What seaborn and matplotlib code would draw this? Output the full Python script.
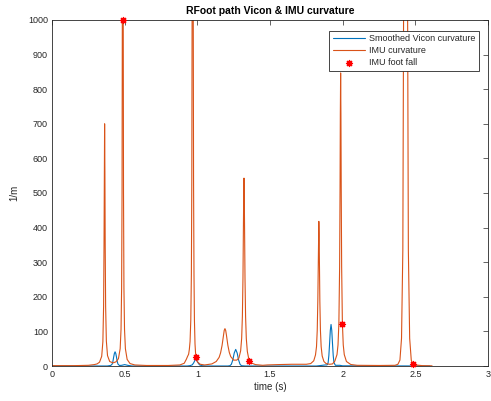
import matplotlib
matplotlib.use("Agg")
import matplotlib.pyplot as plt
import pandas as pd
import seaborn as sns

# ---- data ----
vicon_t = [0.000, 0.380, 0.404, 0.414, 0.419, 0.424, 0.429, 0.434, 0.439, 0.444, 0.449, 0.454, 0.464,
           0.480, 0.500, 0.520, 0.550, 0.930, 0.950, 0.965, 0.975, 0.983, 0.990, 0.997, 1.005, 1.015,
           1.030, 1.060, 1.210, 1.224, 1.234, 1.244, 1.254, 1.264, 1.274, 1.284, 1.294, 1.304, 1.330,
           1.820, 1.860, 1.880, 1.890, 1.895, 1.900, 1.905, 1.910, 1.915, 1.920, 1.925, 1.930, 1.935,
           1.940, 1.950, 1.980, 2.000, 2.600]
vicon_k = [0, 0, 1.5, 5.5, 13, 25, 36, 41, 36, 25, 13, 5.5, 1.5,
           2, 4, 2, 0, 0, 1, 3.3, 9.2, 16, 20, 16, 9.2, 3.3,
           1, 0, 0, 0.8, 4.8, 17.3, 37.6, 48, 37.6, 17.3, 4.8, 0.8, 0,
           0, 2, 3, 3, 4, 10, 30, 65, 103, 120, 103, 65, 30,
           10, 2, 2, 0.5, 0]

imu_t = [0.000, 0.150, 0.250, 0.290, 0.310, 0.327, 0.342, 0.350, 0.355, 0.358, 0.360, 0.362, 0.364,
         0.366, 0.369, 0.374, 0.382, 0.397, 0.420, 0.440, 0.457, 0.469, 0.475, 0.479, 0.482, 0.484,
         0.485, 0.486, 0.487, 0.488, 0.489, 0.490, 0.492, 0.495, 0.499, 0.505, 0.517, 0.537, 0.570,
         0.650, 0.800, 0.880, 0.910, 0.925, 0.933, 0.940, 0.945, 0.950, 0.955, 0.959, 0.962, 0.964,
         0.965, 0.966, 0.967, 0.968, 0.969, 0.970, 0.971, 0.972, 0.974, 0.977, 0.980, 0.984, 0.988,
         0.991, 1.000, 1.020, 1.050, 1.100, 1.130, 1.150, 1.160, 1.170, 1.175, 1.180, 1.185, 1.190,
         1.195, 1.200, 1.205, 1.210, 1.220, 1.230, 1.250, 1.271, 1.286, 1.298, 1.305, 1.310, 1.314,
         1.317, 1.319, 1.321, 1.323, 1.325, 1.328, 1.332, 1.337, 1.344, 1.356, 1.371, 1.400, 1.450,
         1.480, 1.550, 1.650, 1.750, 1.780, 1.801, 1.813, 1.820, 1.825, 1.829, 1.832, 1.834, 1.836,
         1.838, 1.840, 1.843, 1.847, 1.852, 1.859, 1.871, 1.886, 1.910, 1.930, 1.946, 1.961, 1.968,
         1.974, 1.979, 1.982, 1.984, 1.986, 1.988, 1.990, 1.993, 1.998, 2.004, 2.011, 2.026, 2.056,
         2.100, 2.250, 2.360, 2.380, 2.394, 2.405, 2.414, 2.419, 2.425, 2.433, 2.441, 2.447, 2.452,
         2.461, 2.472, 2.482, 2.500, 2.550, 2.615]
imu_k = [1, 1, 2, 4, 6, 11, 28, 70, 172, 350, 560, 700, 560,
         350, 172, 72, 30, 13, 9, 12, 21, 50, 106, 225, 502, 1027,
         1527, 2157, 2500, 2157, 1527, 1027, 502, 225, 106, 50, 19, 7, 3,
         1.5, 1.5, 3, 8, 20, 28, 34, 48, 71, 133, 265, 537, 987,
         1397, 1986, 2660, 3000, 2660, 1986, 1397, 987, 537, 265, 133, 64, 36,
         25, 12, 5, 3, 6, 13, 25, 38, 59, 74, 90, 103, 108,
         103, 90, 74, 60, 39, 27, 17, 17, 23, 44, 80, 144, 254,
         395, 495, 543, 495, 395, 253, 143, 79, 42, 16, 9, 4, 2,
         3, 4, 5, 5, 7, 15, 32, 56, 103, 187, 298, 380, 418,
         380, 298, 187, 103, 56, 29, 13, 7, 5, 6, 14, 33, 61,
         125, 286, 516, 730, 847, 730, 516, 286, 125, 61, 33, 13, 4.3,
         2, 1.5, 2, 5, 17, 80, 335, 1000, 1800, 2000, 1800, 1000, 335,
         80, 17, 6, 3, 1, 0.5]

fall_t = [0.489, 0.991, 1.356, 1.998, 2.482]
fall_k = [1000, 25, 15, 120, 5]

x_ticks = [0, 0.5, 1, 1.5, 2, 2.5, 3]
x_tick_labels = ["0", "0.5", "1", "1.5", "2", "2.5", "3"]
y_ticks = [0, 100, 200, 300, 400, 500, 600, 700, 800, 900, 1000]

vicon_df = pd.DataFrame({"t": vicon_t, "k": vicon_k})
imu_df = pd.DataFrame({"t": imu_t, "k": imu_k})
fall_df = pd.DataFrame({"t": fall_t, "k": fall_k})

# ---- style ----
sns.set_theme(style="white")
plt.rcParams["font.family"] = ["Liberation Sans", "DejaVu Sans"]
dark = "#262626"

fig = plt.figure(figsize=(4.91, 4.01), dpi=100)
fig.patch.set_facecolor("white")
ax = fig.add_axes([52 / 491, 1 - 366 / 401, 436 / 491, 346 / 401])

sns.lineplot(data=vicon_df, x="t", y="k", ax=ax, color="#0072BD", linewidth=0.8,
             estimator=None, sort=False, label="Smoothed Vicon curvature")
sns.lineplot(data=imu_df, x="t", y="k", ax=ax, color="#D95319", linewidth=0.8,
             estimator=None, sort=False, label="IMU curvature")
sns.scatterplot(data=fall_df, x="t", y="k", ax=ax, color="red", marker=(8, 2, 0),
                s=18, linewidth=1.0, clip_on=False, zorder=5, label="IMU foot fall")

ax.set_xlim(0, 3)
ax.set_ylim(0, 1000)
ax.set_xticks(x_ticks)
ax.set_xticklabels(x_tick_labels)
ax.set_yticks(y_ticks)
ax.tick_params(direction="in", top=True, right=True, length=3.5, width=0.5,
               labelsize=6.5, colors=dark, pad=3)
for sp in ax.spines.values():
    sp.set_color(dark)
    sp.set_linewidth(0.6)
    sp.set_visible(True)

ax.set_xlabel("time (s)", fontsize=7, color=dark, labelpad=2)
ax.set_ylabel("1/m", fontsize=7, color=dark, labelpad=6)
ax.set_title("RFoot path Vicon & IMU curvature", fontsize=7.5, fontweight="bold",
             color="black", pad=4)

leg = ax.legend(loc="upper right", bbox_to_anchor=(0.979, 0.969), borderaxespad=0,
                fontsize=6.5, frameon=True, fancybox=False, framealpha=1,
                edgecolor=dark, handlelength=3.6, handletextpad=0.4,
                borderpad=0.4, labelspacing=0.32)
leg.get_frame().set_linewidth(0.6)
for t in leg.get_texts():
    t.set_color(dark)

fig.savefig("out.png", dpi=100, facecolor="white")
